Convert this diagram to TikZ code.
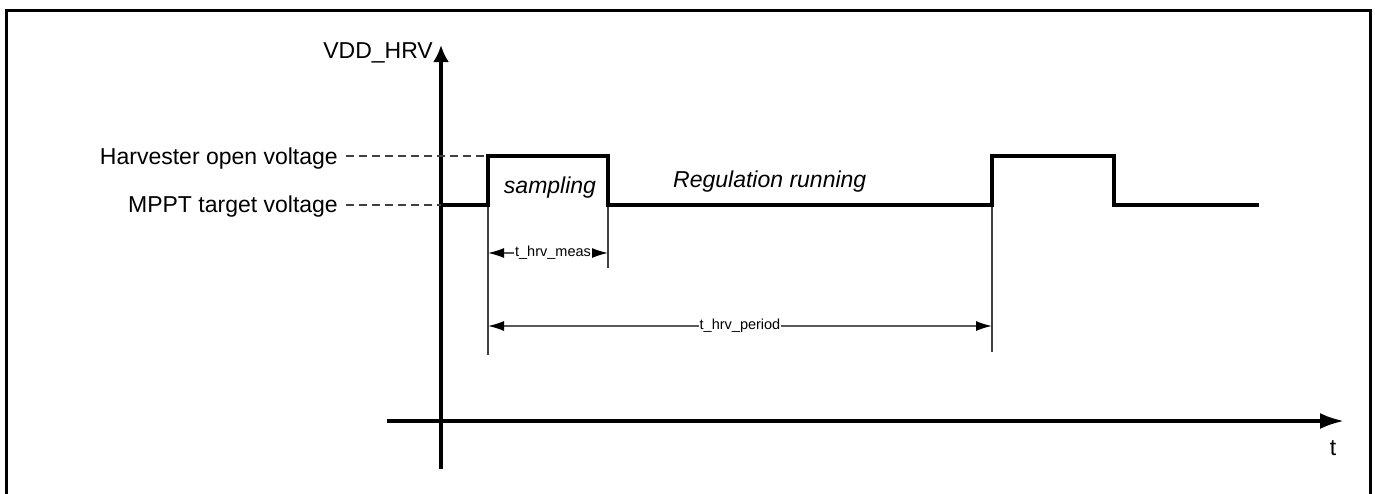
\documentclass[tikz,border=0pt]{standalone}
\usepackage{fontspec}
\setmainfont{Liberation Sans}
\usetikzlibrary{arrows.meta}
\tikzset{
  frame/.style={line width=3pt},
  axisline/.style={line width=3.5pt},
  wave/.style={line width=4pt, line join=miter},
  guide/.style={line width=1.2pt, black!75, dash pattern=on 8pt off 5pt},
  extline/.style={line width=1.3pt, black!75},
  dimline/.style={line width=1.5pt, black!65, {Latex[length=16pt,width=10pt,color=black]}-{Latex[length=16pt,width=10pt,color=black]}},
  biglabel/.style={font=\fontsize{23}{27}\selectfont, inner sep=0pt},
  dimlabel/.style={font=\fontsize{14.5}{16}\selectfont, fill=white, inner sep=1pt},
}
\begin{document}
\begin{tikzpicture}[x=1pt,y=-1pt]
\useasboundingbox (0,0) rectangle (1375,493);
% frame
\coordinate (f1) at (6,505);
\coordinate (f2) at (6,10);
\coordinate (f3) at (1370,10);
\coordinate (f4) at (1370,505);
\draw[frame] (f1) -- (f2) -- (f3) -- (f4);
% axes
\coordinate (yb) at (441,469);
\coordinate (yt) at (441,45);
\coordinate (xl) at (387,421);
\coordinate (xr) at (1344,421);
\draw[axisline, -{Latex[length=17pt,width=16pt]}] (yb) -- (yt);
\draw[axisline, -{Latex[length=24pt,width=16pt]}] (xl) -- (xr);
% waveform corners
\coordinate (w0) at (441,205);
\coordinate (w1) at (488,205);
\coordinate (w2) at (488,156);
\coordinate (w3) at (608,156);
\coordinate (w4) at (608,205);
\coordinate (w5) at (992,205);
\coordinate (w6) at (992,156);
\coordinate (w7) at (1114,156);
\coordinate (w8) at (1114,205);
\coordinate (w9) at (1259,205);
% labels
\node[biglabel, anchor=base east] (vdd) at (433,58) {VDD\_HRV};
\node[biglabel, anchor=base east] (hov) at (338,164) {Harvester open voltage};
\node[biglabel, anchor=base east] (mppt) at (338,212) {MPPT target voltage};
\node[biglabel, anchor=base] (samp) at (550,193) {\itshape sampling};
\node[biglabel, anchor=base west] (reg) at (673,187) {\itshape Regulation running};
\node[biglabel, anchor=base] (tlab) at (1333,455) {t};
% guide dashes
\coordinate (g1) at (346,156);
\coordinate (g2) at (346,205);
\draw[guide] (g1) -- (w2);
\draw[guide] (g2) -- (w0);
% extension lines
\coordinate (e1) at (488,355);
\coordinate (e2) at (608,268);
\coordinate (e3) at (992,352);
\draw[extline] (w1) -- (e1);
\draw[extline] (w4) -- (e2);
\draw[extline] (w5) -- (e3);
% dimensions
\coordinate (m1) at (488,253);
\coordinate (m2) at (608,253);
\coordinate (p1) at (488,326);
\coordinate (p2) at (992,326);
\draw[dimline] (m1) -- (m2);
\draw[dimline] (p1) -- (p2);
\node[dimlabel] (meas) at (553,253) {t\_hrv\_meas};
\node[dimlabel] (period) at (740,326) {t\_hrv\_period};
% waveform
\draw[wave] (w0) -- (w1) -- (w2) -- (w3) -- (w4) -- (w5) -- (w6) -- (w7) -- (w8) -- (w9);
\end{tikzpicture}
\end{document}
